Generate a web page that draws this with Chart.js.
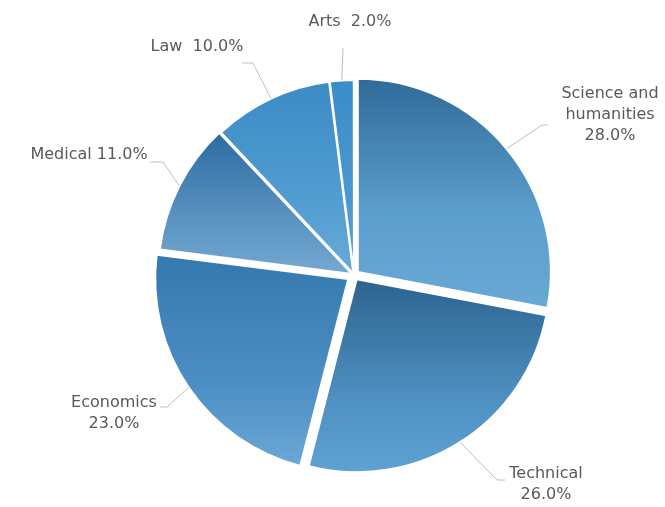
<!DOCTYPE html>
<html>
<head>
<meta charset="utf-8">
<script src="https://cdn.jsdelivr.net/npm/chart.js@4.4.1/dist/chart.umd.min.js"></script>
<style>
html,body{margin:0;padding:0;background:#ffffff;}
#wrap{width:665px;height:507px;position:relative;}
</style>
</head>
<body>
<div id="wrap"><canvas id="c"></canvas></div>
<script>
// ---- data ----
const categories = ['Science and humanities', 'Technical', 'Economics', 'Medical', 'Law', 'Arts'];
const values = [28, 26, 23, 11, 10, 2];

// ---- styles ----
const gradientStops = [
  ['#2f6a97', '#5c9ecd', '#68a8d4'],
  ['#2e6590', '#4f90c2', '#5ea3d3'],
  ['#3679ae', '#4d8fc4', '#6ca9d6'],
  ['#2b6aa0', '#5a92c0', '#72a8d2'],
  ['#3b8bc6', '#519cd0', '#67aad8'],
  ['#3a8cc8', '#4a98d0', '#5aa3d6']
];
const explodePx = [5, 5, 7, 3, 2, 2];
// label placement: elbow relative to pie centre, hook length, text block centre relative to hook end
const labelLayout = [
  {elbow: [188, -150], hook: 6,   text: [62, -10],   mode: 'stack', wrap: 105},
  {elbow: [143, 205],  hook: 8,   text: [41, 4],     mode: 'stack'},
  {elbow: [-187, 132], hook: -7,  text: [-46, 6],    mode: 'stack'},
  {elbow: [-191, -113],hook: -13, text: [-61, -7],   mode: 'inline', sep: ' '},
  {elbow: [-101, -212],hook: -11, text: [-45, -16],  mode: 'inline', sep: '  '},
  {elbow: [-11, -227], hook: 0,   text: [7, -26],    mode: 'inline', sep: '  '}
];
const FONT = '16px "DejaVu Sans", sans-serif';
const TEXT_COLOR = '#595959';
const LINE_COLOR = '#bfbfbf';
const LINE_H = 21;

const total = values.reduce((a, b) => a + b, 0);
// convert desired pixel explode into Chart.js v4 arc offset
const chartOffsets = values.map((v, i) => {
  const c = v / total * Math.PI * 2;
  const factor = (2 - Math.sin(Math.min(Math.PI, c))) / 4;
  return explodePx[i] / factor;
});

function arcShift(arc) {
  const c = arc.endAngle - arc.startAngle;
  const o = arc.options.offset || 0;
  return o / 4 * (2 - Math.sin(Math.min(Math.PI, c)));
}

const gradientPlugin = {
  id: 'gradients',
  beforeDatasetsDraw(chart) {
    const ctx = chart.ctx;
    const meta = chart.getDatasetMeta(0);
    meta.data.forEach((arc, i) => {
      const mid = (arc.startAngle + arc.endAngle) / 2;
      const t = arcShift(arc);
      const x0 = arc.x + Math.cos(mid) * t;
      const y0 = arc.y + Math.sin(mid) * t;
      const R = arc.outerRadius;
      const ys = [y0, y0 + R * Math.sin(arc.startAngle), y0 + R * Math.sin(arc.endAngle)];
      const norm = a => { let r = a % (Math.PI * 2); if (r < 0) r += Math.PI * 2; return r; };
      const inRange = (a) => {
        const s = norm(arc.startAngle);
        const span = arc.endAngle - arc.startAngle;
        const d = norm(a - s);
        return d <= span;
      };
      if (inRange(Math.PI / 2)) ys.push(y0 + R);
      if (inRange(-Math.PI / 2)) ys.push(y0 - R);
      const top = Math.min(...ys), bot = Math.max(...ys);
      const g = ctx.createLinearGradient(0, top, 0, bot);
      const st = gradientStops[i];
      g.addColorStop(0, st[0]);
      g.addColorStop(0.6, st[1]);
      g.addColorStop(1, st[2]);
      arc.options.backgroundColor = g;
    });
  }
};

function wrapText(ctx, text, maxW) {
  const words = text.split(' ');
  const lines = [];
  let cur = '';
  words.forEach(w => {
    const test = cur ? cur + ' ' + w : w;
    if (ctx.measureText(test).width > maxW && cur) { lines.push(cur); cur = w; }
    else cur = test;
  });
  if (cur) lines.push(cur);
  return lines;
}

const labelPlugin = {
  id: 'outsideLabels',
  afterDatasetsDraw(chart) {
    const ctx = chart.ctx;
    const meta = chart.getDatasetMeta(0);
    ctx.save();
    ctx.font = FONT;
    meta.data.forEach((arc, i) => {
      const L = labelLayout[i];
      const mid = (arc.startAngle + arc.endAngle) / 2;
      const t = arcShift(arc);
      const R = arc.outerRadius;
      const sx = arc.x + Math.cos(mid) * (t + R);
      const sy = arc.y + Math.sin(mid) * (t + R);
      const ex = arc.x + L.elbow[0];
      const ey = arc.y + L.elbow[1];
      const hx = ex + L.hook;
      ctx.strokeStyle = LINE_COLOR;
      ctx.lineWidth = 1;
      ctx.beginPath();
      ctx.moveTo(sx, sy);
      ctx.lineTo(ex, ey);
      if (L.hook) ctx.lineTo(hx, ey);
      ctx.stroke();

      const pct = (values[i] / total * 100).toFixed(1) + '%';
      let lines;
      if (L.mode === 'inline') lines = [categories[i] + L.sep + pct];
      else {
        lines = L.wrap ? wrapText(ctx, categories[i], L.wrap) : [categories[i]];
        lines.push(pct);
      }
      const cx = hx + L.text[0];
      const cy = ey + L.text[1];
      ctx.fillStyle = TEXT_COLOR;
      ctx.textAlign = 'center';
      ctx.textBaseline = 'middle';
      const startY = cy - (lines.length - 1) * LINE_H / 2;
      lines.forEach((ln, k) => ctx.fillText(ln, cx, startY + k * LINE_H));
    });
    ctx.restore();
  }
};

new Chart(document.getElementById('c'), {
  type: 'pie',
  data: {
    labels: categories,
    datasets: [{
      data: values,
      backgroundColor: gradientStops.map(s => s[1]),
      borderColor: '#ffffff',
      borderWidth: 2,
      offset: chartOffsets,
      hoverOffset: 0,
      radius: 193
    }]
  },
  options: {
    responsive: true,
    maintainAspectRatio: false,
    animation: false,
    events: [],
    layout: {padding: {left: 43, top: 43, right: 0, bottom: 0}},
    plugins: {
      legend: {display: false},
      tooltip: {enabled: false},
      title: {display: false}
    }
  },
  plugins: [gradientPlugin, labelPlugin]
});
</script>
</body>
</html>
